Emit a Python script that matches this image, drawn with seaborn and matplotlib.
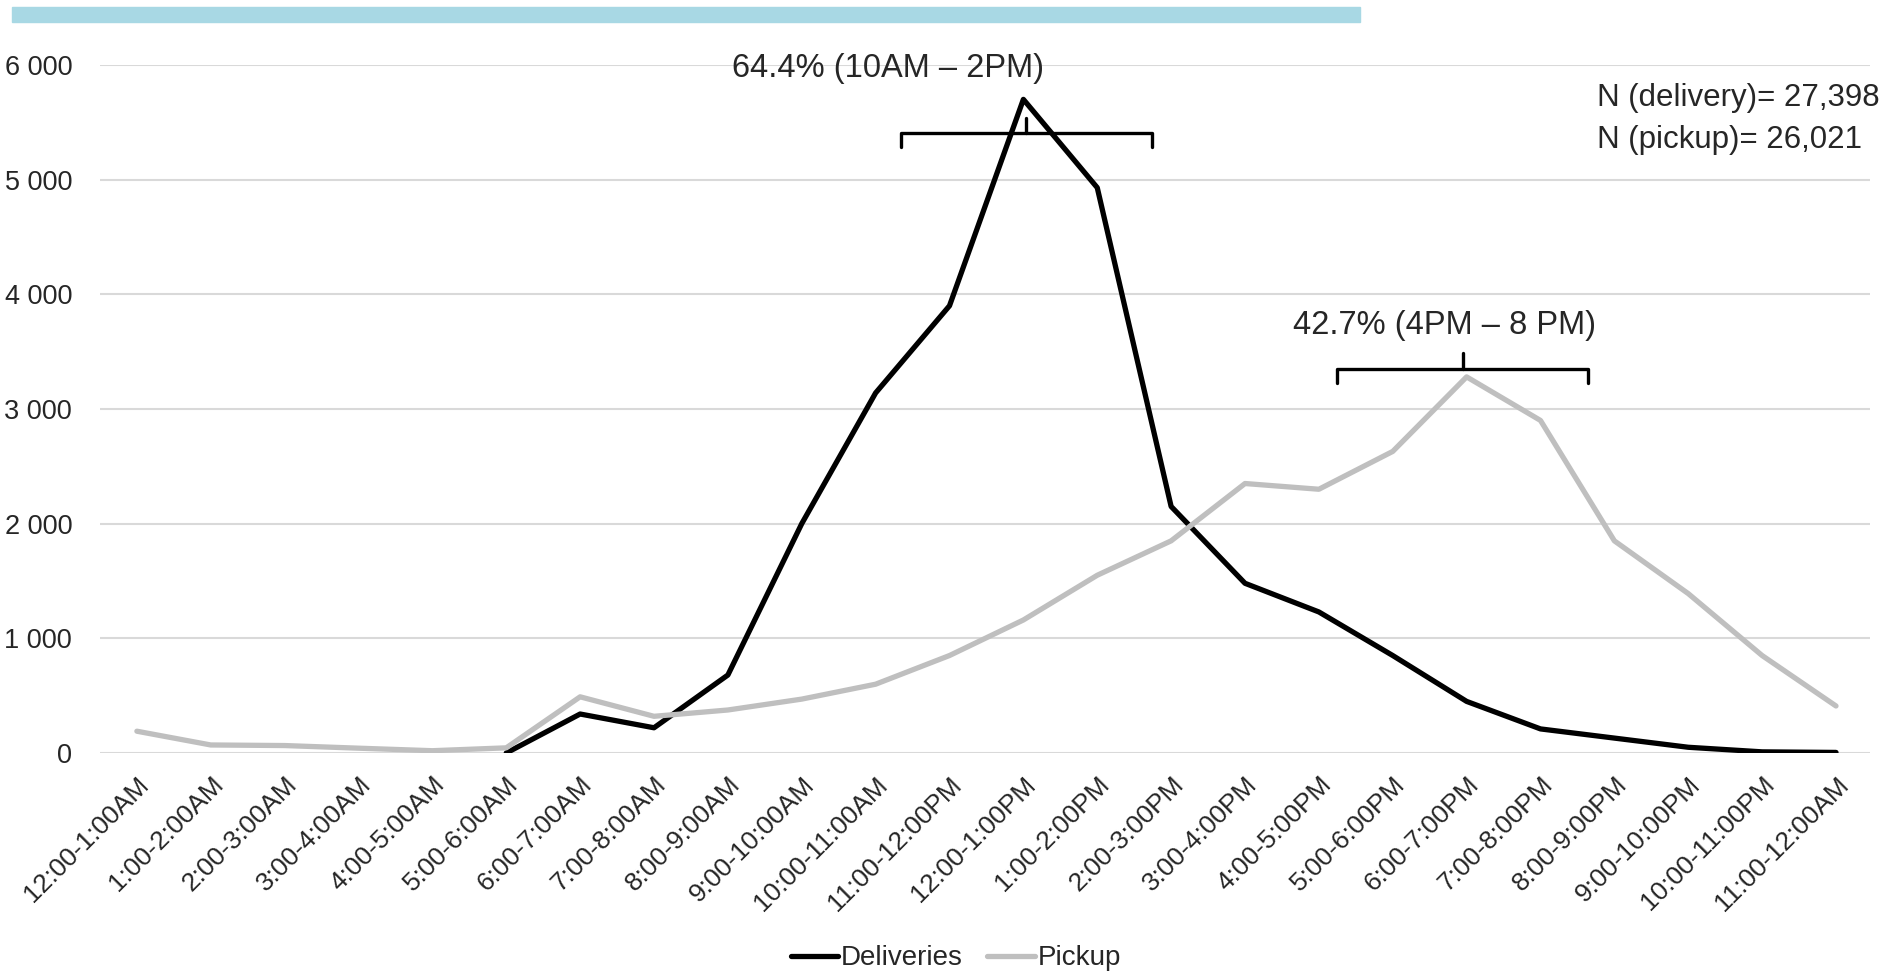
import pandas as pd
import numpy as np
import matplotlib
matplotlib.use('Agg')
import matplotlib.pyplot as plt
import seaborn as sns
from matplotlib.ticker import FuncFormatter, MultipleLocator

# hourly slots
slots = ['12:00-1:00AM', '1:00-2:00AM', '2:00-3:00AM', '3:00-4:00AM', '4:00-5:00AM',
         '5:00-6:00AM', '6:00-7:00AM', '7:00-8:00AM', '8:00-9:00AM', '9:00-10:00AM',
         '10:00-11:00AM', '11:00-12:00PM', '12:00-1:00PM', '1:00-2:00PM', '2:00-3:00PM',
         '3:00-4:00PM', '4:00-5:00PM', '5:00-6:00PM', '6:00-7:00PM', '7:00-8:00PM',
         '8:00-9:00PM', '9:00-10:00PM', '10:00-11:00PM', '11:00-12:00AM']

# values (deliveries start at 5AM)
deliveries = [np.nan, np.nan, np.nan, np.nan, np.nan, 0, 340, 220, 680, 2000,
              3140, 3900, 5700, 4930, 2150, 1480, 1230, 850, 450, 210,
              130, 50, 10, 5]
pickup = [190, 70, 65, 42, 20, 45, 490, 320, 375, 470,
          600, 850, 1160, 1550, 1850, 2350, 2300, 2630, 3280, 2900,
          1850, 1390, 850, 410]

df = pd.DataFrame({'slot': range(len(slots)), 'Deliveries': deliveries, 'Pickup': pickup})
long_df = df.melt(id_vars='slot', var_name='type', value_name='count').dropna()

sns.set_style('white')
plt.rcParams['font.family'] = ['Liberation Sans', 'DejaVu Sans']

fig = plt.figure(figsize=(19, 9.74), dpi=100)
ax = fig.add_axes([0.0526, 0.2269, 0.9316, 0.7064])

sns.lineplot(data=long_df, x='slot', y='count', hue='type',
             palette={'Deliveries': '#000000', 'Pickup': '#BFBFBF'},
             linewidth=3.8, ax=ax, sort=False, solid_capstyle='round')

ax.set_xlim(-0.5, 23.46)
ax.set_ylim(0, 6000)
ax.yaxis.set_major_locator(MultipleLocator(1000))
ax.yaxis.set_major_formatter(FuncFormatter(lambda v, p: f'{int(v):,}'.replace(',', ' ')))
ax.set_xticks(range(len(slots)))
ax.set_xticklabels(slots, rotation=45, ha='right', rotation_mode='anchor', fontsize=19)
ax.tick_params(axis='y', labelsize=19.5, length=0, pad=20)
ax.tick_params(axis='x', length=0, pad=14)
ax.set_xlabel('')
ax.set_ylabel('')
for s in ax.spines.values():
    s.set_visible(False)
ax.yaxis.grid(True, color='#D9D9D9', linewidth=1.5)
ax.set_axisbelow(True)

# brackets
def bracket(x0, x1, y, drop, rise):
    xc = (x0 + x1) / 2
    ax.plot([x0, x0, x1, x1], [y - drop, y, y, y - drop], color='black', lw=2.4,
            solid_joinstyle='round')
    ax.plot([xc, xc], [y, y + rise], color='black', lw=2.4)

bracket(10.34, 13.74, 5407, 125, 130)
bracket(16.25, 19.64, 3350, 125, 140)
ax.text(10.17, 5965, '64.4% (10AM – 2PM)', ha='center', va='center', fontsize=23.5)
ax.text(17.70, 3724, '42.7% (4PM – 8 PM)', ha='center', va='center', fontsize=23.5)

fig.text(0.8405, 0.878, 'N (delivery)= 27,398\nN (pickup)= 26,021', ha='left', va='center',
         fontsize=22.5, linespacing=1.5)

# top accent bar
fig.patches.append(plt.Rectangle((0.0063, 0.9774), 0.7095, 0.0154, transform=fig.transFigure,
                                 color='#A8D8E4', zorder=0))

ax.legend(handles=ax.get_legend_handles_labels()[0], labels=['Deliveries', 'Pickup'],
          loc='center', bbox_to_anchor=(0.503, 0.016), bbox_transform=fig.transFigure,
          ncol=2, frameon=False, fontsize=20, handlelength=1.7, handletextpad=0.1,
          columnspacing=0.9)

fig.savefig('out.png', dpi=100, facecolor='white')
